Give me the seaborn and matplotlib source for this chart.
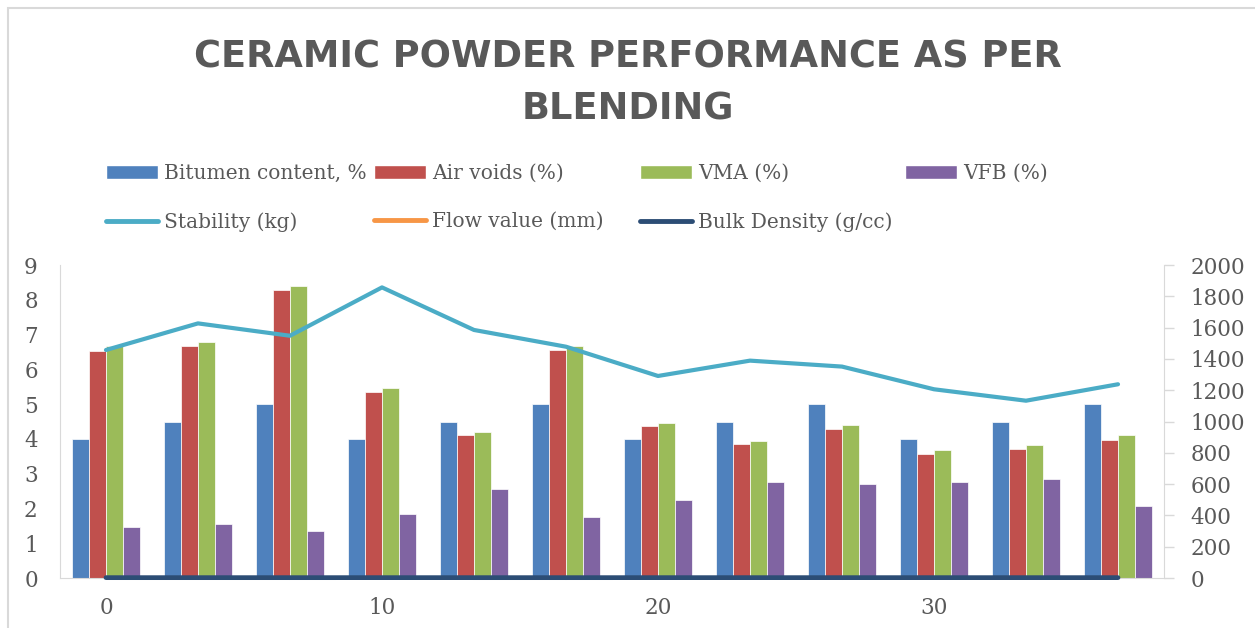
import numpy as np
import pandas as pd
import matplotlib
matplotlib.use("Agg")
import matplotlib.pyplot as plt
from matplotlib.patches import Patch, Rectangle
from matplotlib.lines import Line2D
import seaborn as sns

# valeurs
groups = list(range(12))
tick_pos = [0, 3, 6, 9]
tick_labels = ["0", "10", "20", "30"]

bitumen = [4.0, 4.5, 5.0, 4.0, 4.5, 5.0, 4.0, 4.5, 5.0, 4.0, 4.5, 5.0]
air_voids = [6.53, 6.68, 8.29, 5.34, 4.11, 6.57, 4.36, 3.85, 4.29, 3.56, 3.71, 3.97]
vma = [6.66, 6.79, 8.41, 5.45, 4.21, 6.68, 4.46, 3.95, 4.40, 3.67, 3.82, 4.11]
vfb = [1.48, 1.55, 1.35, 1.83, 2.57, 1.75, 2.25, 2.75, 2.71, 2.76, 2.84, 2.08]

stability = [1457, 1627, 1548, 1857, 1585, 1478, 1291, 1389, 1351, 1206, 1133, 1238]
flow = [3.1, 3.3, 3.5, 3.2, 3.4, 3.6, 3.3, 3.5, 3.7, 3.4, 3.6, 3.8]
bulk_density = [2.36, 2.35, 2.33, 2.37, 2.36, 2.34, 2.38, 2.37, 2.35, 2.39, 2.38, 2.36]

bar_names = ["Bitumen content, %", "Air voids (%)", "VMA (%)", "VFB (%)"]
bar_colors = ["#4F81BD", "#C0504D", "#9BBB59", "#8064A2"]
line_names = ["Stability (kg)", "Flow value (mm)", "Bulk Density (g/cc)"]
line_colors = ["#4BACC6", "#F79646", "#2C4D75"]

bars = pd.DataFrame({
    "group": groups * 4,
    "value": bitumen + air_voids + vma + vfb,
    "series": [n for n in bar_names for _ in groups],
})

grey_txt = "#595959"
grey_line = "#D9D9D9"

sns.set_style("white")
plt.rcParams["font.family"] = ["DejaVu Serif"]

fig = plt.figure(figsize=(12.55, 6.28), dpi=100)
ax = fig.add_axes([0.0478, 0.0796, 0.8797, 0.4984])

sns.barplot(data=bars, x="group", y="value", hue="series", hue_order=bar_names,
            palette=bar_colors, saturation=1, width=0.73, edgecolor="white",
            linewidth=0.5, ax=ax, legend=False)

ax2 = ax.twinx()
for vals, col, lw in zip([stability, flow, bulk_density], line_colors, [3.0, 2.0, 3.4]):
    sns.lineplot(x=groups, y=vals, color=col, linewidth=lw, ax=ax2, legend=False)
ax2.lines[-1].set_clip_on(False)
ax2.lines[-2].set_clip_on(False)

ax.set_xlim(-0.5, 11.5)
ax.set_ylim(0, 9)
ax.set_yticks(range(10))
ax2.set_ylim(0, 2000)
ax2.set_yticks(range(0, 2001, 200))
ax.set_xticks(tick_pos)
ax.set_xticklabels(tick_labels)
ax.set_xlabel("")
ax.set_ylabel("")
ax2.set_ylabel("")

for s in ["top", "right"]:
    ax.spines[s].set_visible(False)
for s in ["left", "bottom"]:
    ax.spines[s].set_color(grey_line)
for s in ["top", "left", "bottom"]:
    ax2.spines[s].set_visible(False)
ax2.spines["right"].set_color(grey_line)

ax.tick_params(axis="y", length=0, pad=16, labelsize=15.5, labelcolor=grey_txt)
ax.tick_params(axis="x", length=0, pad=14, labelsize=15.5, labelcolor=grey_txt)
ax2.tick_params(axis="y", length=7, width=1, color=grey_line, pad=12,
                labelsize=15.5, labelcolor=grey_txt)

fig.suptitle("CERAMIC POWDER PERFORMANCE AS PER\nBLENDING", x=0.5, y=0.868,
             va="center", fontsize=26.5, fontweight="bold", color=grey_txt,
             family="DejaVu Sans", linespacing=1.5)

# legende : une colonne a la fois pour garder les positions d'Excel
handles = [Patch(facecolor=c) for c in bar_colors]
handles += [Line2D([], [], color=c, linewidth=3.5) for c in line_colors]
names = bar_names + line_names
columns = [[0, 4], [1, 5], [2, 6], [3]]
col_x = [106, 374, 640, 905]
for idx, x in zip(columns, col_x):
    fig.legend([handles[i] for i in idx], [names[i] for i in idx],
               loc="upper left", bbox_to_anchor=(x / 1255, 1 - 164 / 628),
               frameon=False, fontsize=14.5, borderpad=0, borderaxespad=0,
               handlelength=2.6, handleheight=0.7, handletextpad=0.3,
               labelspacing=1.45, labelcolor=grey_txt)

fig.patches.append(Rectangle((8 / 1255, -0.05), 1.1, 1 - 8 / 628 + 0.05,
                             transform=fig.transFigure, fill=False,
                             edgecolor=grey_line, linewidth=1.5))

fig.savefig("out.png", dpi=100)
